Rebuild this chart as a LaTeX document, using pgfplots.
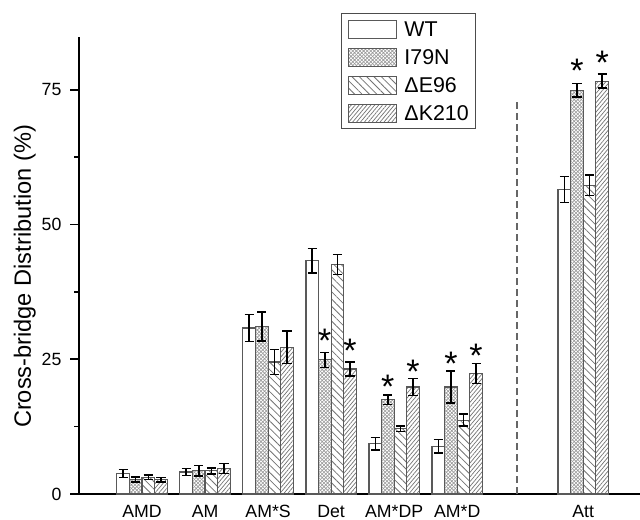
\documentclass[border=0pt]{standalone}
\usepackage{fontspec}
\setmainfont{Liberation Sans}
\usepackage{pgfplots}
\pgfplotsset{compat=1.18}
\usepackage{pgfplotstable}
\usetikzlibrary{patterns,patterns.meta}

\pgfdeclarepatternformonly{finecross}{\pgfqpoint{-0.5pt}{-0.5pt}}{\pgfqpoint{2.3pt}{2.3pt}}{\pgfqpoint{1.8pt}{1.8pt}}{%
  \pgfsetlinewidth{0.3pt}%
  \pgfpathmoveto{\pgfqpoint{0pt}{0pt}}\pgfpathlineto{\pgfqpoint{1.8pt}{1.8pt}}%
  \pgfpathmoveto{\pgfqpoint{0pt}{1.8pt}}\pgfpathlineto{\pgfqpoint{1.8pt}{0pt}}%
  \pgfusepath{stroke}}

\pgfplotstableread{
x y e
-0.3 3.8 0.77
0.7 4.1 0.65
1.7 30.8 2.5
2.7 43.3 2.25
3.7 9.3 1.15
4.7 8.85 1.25
6.7 56.5 2.4
}\wt
\pgfplotstableread{
x y e
-0.1 2.7 0.5
0.9 4.3 1.0
1.9 31.1 2.7
2.9 24.9 1.4
3.9 17.5 0.9
4.9 19.85 3.0
6.9 74.9 1.25
}\ian
\pgfplotstableread{
x y e
0.1 3.1 0.45
1.1 4.3 0.55
2.1 24.5 2.3
3.1 42.6 1.85
4.1 12.1 0.5
5.1 13.7 1.1
7.1 57.3 1.9
}\dE
\pgfplotstableread{
x y e
0.3 2.65 0.45
1.3 4.75 0.9
2.3 27.2 3.0
3.3 23.2 1.3
4.3 19.85 1.6
5.3 22.4 1.85
7.3 76.6 1.3
}\dK
\pgfplotstableread{
x y
2.9 28.5
3.3 26.5
3.9 19.9
4.3 22.7
4.9 24.1
5.3 25.7
6.9 78.5
7.3 80.1
}\stars

\begin{document}
\begin{tikzpicture}
\path[use as bounding box] (0,0) rectangle (320pt,259.5pt);
\begin{axis}[
  at={(39.5pt,12.5pt)}, anchor=south west,
  width=280.5pt, height=228.5pt, scale only axis,
  xmin=-1, xmax=7.9, ymin=0, ymax=84.8,
  axis lines*=left,
  axis line style={-, line width=0.8pt},
  tick align=outside,
  xtick={0,1,2,3,4,5,7},
  xticklabels={AMD,AM,AM*S,Det,AM*DP,AM*D,Att},
  xtick style={draw=none},
  ytick={0,25,50,75},
  minor ytick={12.5,37.5,62.5},
  major tick length=4.5pt, minor tick length=2.5pt,
  ytick style={line width=0.8pt, black},
  minor tick style={line width=0.8pt, black},
  tick label style={font=\fontsize{8.85}{10}\selectfont},
  xticklabel style={yshift=2.5pt},
  yticklabel style={xshift=-0.75pt},
  /pgf/number format/assume math mode=true,
  ylabel={Cross-bridge Distribution (\%)},
  every axis y label/.style={at={(axis description cs:-0.0856,0.476)}, rotate=90, anchor=base,
    font=\fontsize{11.8}{13}\selectfont},
  legend style={at={(axis description cs:0.467,1.0525)}, anchor=north west,
    draw=black!70, line width=0.5pt, font=\fontsize{10.7}{12}\selectfont,
    inner xsep=3.5pt, inner ysep=3pt, row sep=4.5pt, column sep=3.5pt,
    nodes={inner sep=0pt, text height=7.7pt, text depth=0pt, anchor=west}},
  legend cell align=left,
  legend image code/.code={\draw[#1, line width=0.5pt] (0pt,-4.5pt) rectangle (24pt,4.5pt);},
  error bars/error bar style={black, line width=0.75pt},
  error bars/error mark options={rotate=90, mark size=2.3pt, line width=0.75pt, black},
  clip=false,
]
\addplot[ybar, bar width=0.2, bar shift=0pt, draw=black!65, line width=0.6pt, fill=white,
  error bars/.cd, y dir=both, y explicit] table[x=x, y=y, y error=e] {\wt};
\addlegendentry{WT}
\addplot[ybar, bar width=0.2, bar shift=0pt, draw=black!65, line width=0.6pt,
  pattern=finecross, pattern color=black!40,
  error bars/.cd, y dir=both, y explicit] table[x=x, y=y, y error=e] {\ian};
\addlegendentry{I79N}
\addplot[ybar, bar width=0.2, bar shift=0pt, draw=black!65, line width=0.6pt,
  pattern={Lines[angle=-45, distance=2.6pt, line width=0.4pt]}, pattern color=black!55,
  error bars/.cd, y dir=both, y explicit] table[x=x, y=y, y error=e] {\dE};
\addlegendentry{ΔE96}
\addplot[ybar, bar width=0.2, bar shift=0pt, draw=black!65, line width=0.6pt,
  pattern={Lines[angle=50, distance=1.5pt, line width=0.35pt]}, pattern color=black!55,
  error bars/.cd, y dir=both, y explicit] table[x=x, y=y, y error=e] {\dK};
\addlegendentry{ΔK210}
\addplot[forget plot, black!60, line width=0.7pt, dash pattern=on 3.5pt off 2pt] coordinates {(5.95,0) (5.95,73)};
\addplot[forget plot, only marks, mark=text, text mark={\fontsize{17}{17}\selectfont *}] table[x=x, y=y] {\stars};
\end{axis}
\end{tikzpicture}
\end{document}
